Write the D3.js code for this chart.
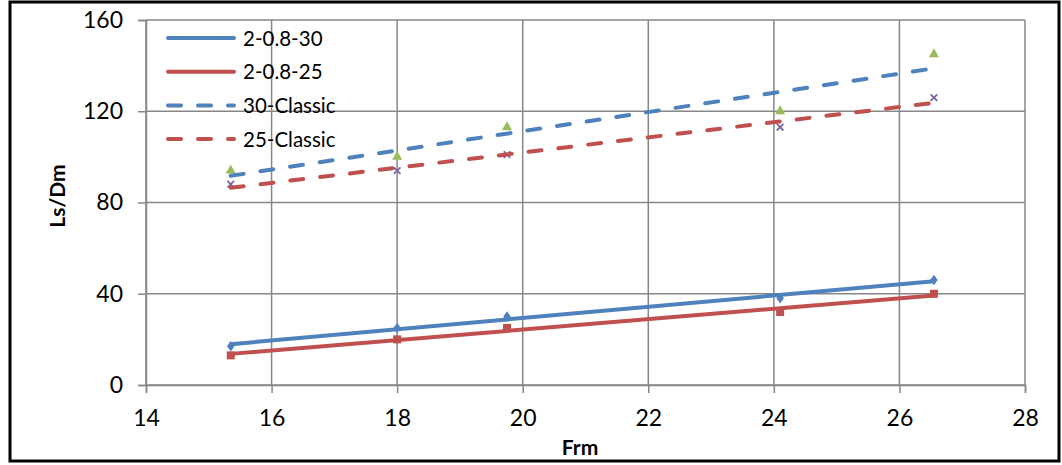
<!DOCTYPE html>
<html>
<head>
<meta charset="utf-8">
<script src="https://cdn.jsdelivr.net/npm/d3@7"></script>
<style>
  body { margin: 0; background: #fff; }
  svg { display: block; }
  text { font-family: Lato, "Open Sans", sans-serif; fill: #000; }
</style>
</head>
<body>
<div id="chart"></div>
<script>
// Froude number values (x)
var frm = [15.35, 18, 19.75, 24.1, 26.55];
// Ls/Dm for each case
var ls30 = [17, 25, 30, 38, 46];
var ls25 = [13, 20, 25, 32, 40];
var classic30 = [94, 100, 113, 120, 145];
var classic25 = [88, 94, 101, 113, 126];
var xTicks = [14, 16, 18, 20, 22, 24, 26, 28];
var yTicks = [0, 40, 80, 120, 160];

var width = 1062,
    height = 465,
    margin = { top: 20, right: 37, bottom: 80, left: 146 },
    blue = '#4F81BD', red = '#C0504D', green = '#9BBB59', purple = '#8064A2',
    grid = '#878787';

var series = [
    { name: '2-0.8-30', y: ls30, color: blue, dash: null, marker: 'diamond', mColor: blue },
    { name: '2-0.8-25', y: ls25, color: red, dash: null, marker: 'square', mColor: red },
    { name: '30-Classic', y: classic30, color: blue, dash: '13,17', marker: 'triangle', mColor: green },
    { name: '25-Classic', y: classic25, color: red, dash: '13,17', marker: 'cross', mColor: purple }
];

// least squares fit, used for the trendlines
function linFit(xs, ys) {
    var mx = d3.mean(xs), my = d3.mean(ys), sxy = 0, sxx = 0;
    for (var i = 0; i < xs.length; i++) {
        sxy += (xs[i] - mx) * (ys[i] - my);
        sxx += (xs[i] - mx) * (xs[i] - mx);
    }
    var b = sxy / sxx;
    return function (x) { return my + b * (x - mx); };
}

var svg = d3.select('#chart').append('svg')
    .attr('width', width)
    .attr('height', height);

// outer frame
svg.append('rect')
    .attr('x', 10).attr('y', 2)
    .attr('width', 1049).attr('height', 459)
    .attr('fill', 'none')
    .attr('stroke', '#000')
    .attr('stroke-width', 3);

var x = d3.scaleLinear().domain([14, 28]).range([margin.left, width - margin.right]);
var y = d3.scaleLinear().domain([0, 160]).range([height - margin.bottom, margin.top]);

var g = svg.append('g');

// gridlines
g.selectAll('.vgrid').data(xTicks).enter().append('line')
    .attr('x1', function (d) { return x(d); }).attr('x2', function (d) { return x(d); })
    .attr('y1', y(0)).attr('y2', y(160))
    .attr('stroke', grid).attr('stroke-width', 1.5);
g.selectAll('.hgrid').data(yTicks).enter().append('line')
    .attr('x1', x(14)).attr('x2', x(28))
    .attr('y1', function (d) { return y(d); }).attr('y2', function (d) { return y(d); })
    .attr('stroke', grid).attr('stroke-width', 1.5);

// axes
var xAxis = d3.axisBottom(x).tickValues(xTicks).tickSize(8).tickPadding(17);
var yAxis = d3.axisLeft(y).tickValues(yTicks).tickSize(8).tickPadding(15);

var xg = svg.append('g').attr('transform', 'translate(0,' + y(0) + ')').call(xAxis);
var yg = svg.append('g').attr('transform', 'translate(' + x(14) + ',0)').call(yAxis);
[xg, yg].forEach(function (a) {
    a.select('.domain').attr('stroke', grid).attr('stroke-width', 1.5);
    a.selectAll('.tick line').attr('stroke', grid).attr('stroke-width', 1.5);
    a.selectAll('.tick text')
        .style('font-family', 'Lato, "Open Sans", sans-serif')
        .style('font-size', '23px')
        .attr('fill', '#000');
});

// axis titles
svg.append('text')
    .attr('x', 580).attr('y', 455)
    .attr('text-anchor', 'middle')
    .style('font-size', '21px').style('font-weight', 'bold')
    .text('Frm');
svg.append('text')
    .attr('transform', 'translate(65,196) rotate(-90)')
    .attr('text-anchor', 'middle')
    .style('font-size', '21px').style('font-weight', 'bold')
    .text('Ls/Dm');

// markers
var mk = svg.append('g');
series.forEach(function (s) {
    var pts = frm.map(function (f, i) { return [x(f), y(s.y[i])]; });
    var sel = mk.selectAll(null).data(pts).enter();
    if (s.marker === 'diamond') {
        sel.append('path').attr('d', d3.symbol(d3.symbolDiamond, 40))
            .attr('transform', function (d) { return 'translate(' + d[0] + ',' + d[1] + ') scale(1.1,0.9)'; })
            .attr('fill', s.mColor);
    } else if (s.marker === 'square') {
        sel.append('rect')
            .attr('x', function (d) { return d[0] - 4; }).attr('y', function (d) { return d[1] - 4; })
            .attr('width', 8).attr('height', 8)
            .attr('fill', s.mColor);
    } else if (s.marker === 'triangle') {
        sel.append('path').attr('d', d3.symbol(d3.symbolTriangle, 45))
            .attr('transform', function (d) { return 'translate(' + d[0] + ',' + d[1] + ')'; })
            .attr('fill', s.mColor);
    } else {
        sel.append('path').attr('d', d3.symbol(d3.symbolX, 30))
            .attr('transform', function (d) { return 'translate(' + d[0] + ',' + d[1] + ')'; })
            .attr('stroke', s.mColor).attr('stroke-width', 1.8).attr('fill', 'none');
    }
});

// trendlines
var tl = svg.append('g');
series.forEach(function (s) {
    var f = linFit(frm, s.y);
    var x0 = d3.min(frm), x1 = d3.max(frm);
    tl.append('line')
        .attr('x1', x(x0)).attr('y1', y(f(x0)))
        .attr('x2', x(x1)).attr('y2', y(f(x1)))
        .attr('stroke', s.color)
        .attr('stroke-width', 4)
        .attr('stroke-linecap', 'round')
        .attr('stroke-dasharray', s.dash);
});

// legend
var lg = svg.append('g');
series.forEach(function (s, i) {
    var ly = 38 + i * 33.7;
    lg.append('line')
        .attr('x1', 168).attr('x2', 234)
        .attr('y1', ly).attr('y2', ly)
        .attr('stroke', s.color)
        .attr('stroke-width', 4)
        .attr('stroke-linecap', 'round')
        .attr('stroke-dasharray', s.dash);
    lg.append('text')
        .attr('x', 243).attr('y', ly + 7.5)
        .style('font-size', '20.5px')
        .text(s.name);
});
</script>
</body>
</html>
